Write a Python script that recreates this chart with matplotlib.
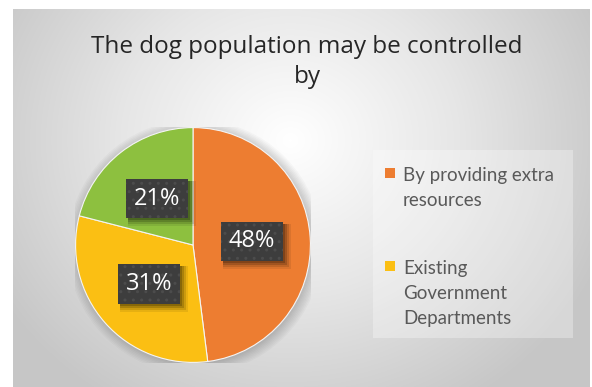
import numpy as np
import matplotlib
matplotlib.use("Agg")
import matplotlib.pyplot as plt
from matplotlib.colors import LinearSegmentedColormap
from matplotlib.patches import Rectangle, Circle

# survey answers
labels = ["By providing extra\nresources", "Existing\nGovernment\nDepartments", "Other"]
shares = [48, 31, 21]
colors = ["#ED7D31", "#FBBF13", "#8DC03F"]
title = "The dog population may be controlled\nby"

W, H = 592, 387
fig = plt.figure(figsize=(W / 100, H / 100), dpi=100)
fig.patch.set_facecolor("white")

def fx(px):
    return px / W

def fy(py):
    return 1 - py / H

# radial grey background of the chart area
bg = fig.add_axes([fx(13), 0, fx(590 - 13), (H - 9) / H])
bg.set_axis_off()
yy, xx = np.mgrid[9:H, 13:590]
d = np.hypot(xx - 290, (yy - 140) * 1.1) / 340
d = np.clip(d, 0, 1)
cmap = LinearSegmentedColormap.from_list("bg", ["#ffffff", "#e6e6e6", "#c6c6c6"])
bg.imshow(d, cmap=cmap, vmin=0, vmax=1, aspect="auto", interpolation="bilinear")

fig.text(fx(307), fy(62), title, ha="center", va="center",
         fontsize=17.5, family="Open Sans", color="#262626", linespacing=1.3)

# pie
cx, cy, r = 193, 245, 118
ax = fig.add_axes([fx(cx - r), fy(cy + r), 2 * r / W, 2 * r / H])
ax.set_axis_off()

# soft shadow under the pie
for k in range(8):
    ax.add_patch(Circle((0.015, -0.015), 1.0 + 0.012 * k, facecolor="black",
                        alpha=0.025, edgecolor="none", zorder=0))

wedges, texts, autotexts = ax.pie(
    shares, colors=colors, startangle=90, counterclock=False,
    autopct="%d%%", pctdistance=0.5,
    wedgeprops=dict(edgecolor="#f4f4f4", linewidth=0.8, zorder=1),
    textprops=dict(color="white", fontsize=17, family="Open Sans", zorder=5))
ax.set_xlim(-1.005, 1.005)
ax.set_ylim(-1.005, 1.005)
ax.set_aspect("equal")

for t in autotexts:
    t.set_bbox(dict(boxstyle="square,pad=0.33", facecolor="#3d3d3d",
                    edgecolor="#4c4c4c", hatch="..", linewidth=0))

# drop shadows behind the label boxes, above the wedges
fig.canvas.draw()
inv = fig.transFigure.inverted()
for t in autotexts:
    bb = t.get_bbox_patch().get_window_extent()
    (x0, y0), (x1, y1) = inv.transform([[bb.x0, bb.y0], [bb.x1, bb.y1]])
    for off, grow, a in [(5, 3, 0.08), (4, 2, 0.12), (3, 1, 0.16), (2, 0, 0.2)]:
        ax.add_artist(Rectangle((x0 + fx(off - grow), y0 - (off + grow) / H),
                                x1 - x0 + fx(2 * grow), y1 - y0 + 2 * grow / H,
                                transform=fig.transFigure, facecolor="black",
                                alpha=a, edgecolor="none", zorder=3, clip_on=False))

# legend box, only the first two answers are listed
fig.patches.append(Rectangle((fx(373), fy(338)), fx(573 - 373), (338 - 150) / H,
                             transform=fig.transFigure, facecolor="white",
                             alpha=0.3, edgecolor="none"))
for lab, col, base in zip(labels[:2], colors[:2], [181, 274]):
    fig.patches.append(Rectangle((fx(385), fy(base - 3)), fx(10), 10 / H,
                                 transform=fig.transFigure, facecolor=col,
                                 edgecolor="none"))
    for i, line in enumerate(lab.split("\n")):
        fig.text(fx(403), fy(base + 25 * i), line, ha="left", va="baseline",
                 fontsize=13.5, family="Lato", color="#595959")

fig.savefig("out.png", dpi=100)
